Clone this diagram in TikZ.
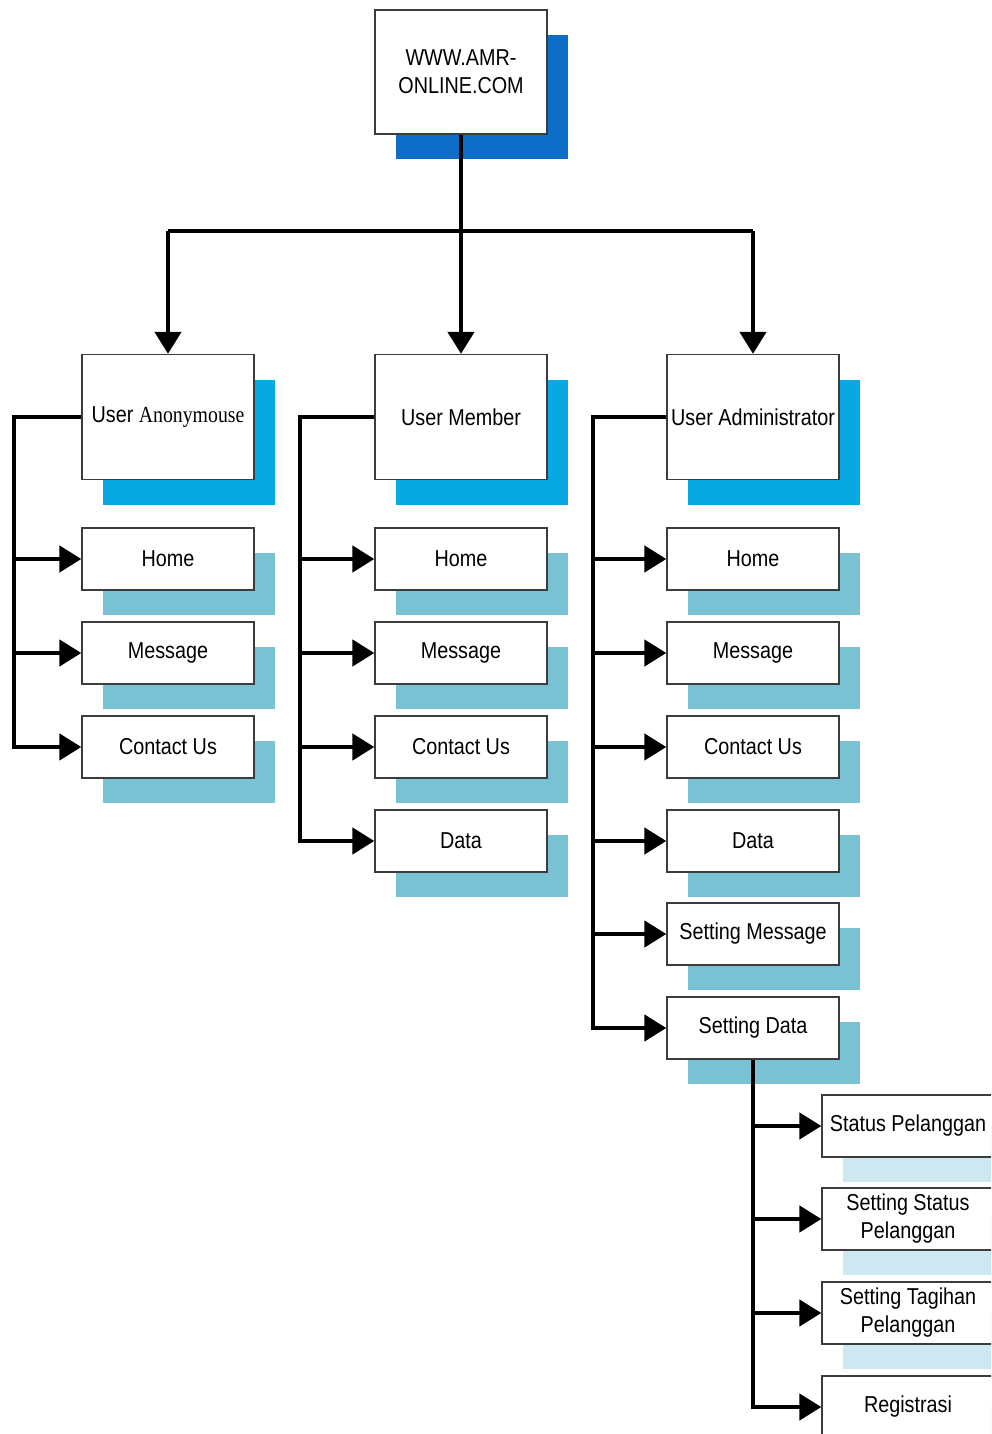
\documentclass[tikz,border=0pt]{standalone}
\usepackage{fontspec}
\setmainfont[FakeStretch=0.86]{Liberation Sans}
\newfontfamily\timespart[FakeStretch=0.86]{Liberation Serif}
\usetikzlibrary{arrows.meta,shadows}
\definecolor{topshade}{RGB}{12,110,198}
\definecolor{usershade}{RGB}{8,168,226}
\definecolor{leafshade}{RGB}{120,194,212}
\definecolor{subshade}{RGB}{205,232,240}
\definecolor{boxline}{RGB}{60,60,60}
\begin{document}
\begin{tikzpicture}[x=1pt,y=-1pt,
	box/.style={draw=boxline, line width=1.3pt, fill=white, align=center, inner sep=2pt,
		minimum width=172pt, font=\fontsize{23}{28}\selectfont},
	bigbox/.style={box, minimum height=125pt,
		drop shadow={shadow xshift=21pt, shadow yshift=-25pt, fill=usershade, opacity=1}},
	leafbox/.style={box, minimum height=62pt,
		drop shadow={shadow xshift=21pt, shadow yshift=-25pt, fill=leafshade, opacity=1}},
	subbox/.style={box, minimum height=62pt,
		drop shadow={shadow xshift=21pt, shadow yshift=-25pt, fill=subshade, opacity=1}},
	conn/.style={line width=4.5pt, black},
	arr/.style={conn, -{Triangle[length=22pt,width=26pt]}}]
	\clip (0,0) rectangle (991,1434);
	\fill[white] (0,0) rectangle (991,1434);
	%Top
	\node[box, minimum height=124pt,
		drop shadow={shadow xshift=21pt, shadow yshift=-25pt, fill=topshade, opacity=1}]
		(web) at (461,72) {WWW.AMR-\\ONLINE.COM};
	%Users
	\node[bigbox] (anon) at (168,417) {User {\timespart Anonymouse}};
	\node[bigbox] (member) at (461,417) {User Member};
	\node[bigbox] (admin) at (753,417) {User Administrator};
	%Anonymous menu
	\node[leafbox] (anonhome) at (168,559) {Home};
	\node[leafbox] (anonmsg) at (168,653) {Message};
	\node[leafbox] (anoncontact) at (168,747) {Contact Us};
	%Member menu
	\node[leafbox] (memhome) at (461,559) {Home};
	\node[leafbox] (memmsg) at (461,653) {Message};
	\node[leafbox] (memcontact) at (461,747) {Contact Us};
	\node[leafbox] (memdata) at (461,841) {Data};
	%Administrator menu
	\node[leafbox] (admhome) at (753,559) {Home};
	\node[leafbox] (admmsg) at (753,653) {Message};
	\node[leafbox] (admcontact) at (753,747) {Contact Us};
	\node[leafbox] (admdata) at (753,841) {Data};
	\node[leafbox] (admsetmsg) at (753,934) {Setting Message};
	\node[leafbox] (admsetdata) at (753,1028) {Setting Data};
	%Setting Data menu
	\node[subbox] (status) at (908,1126) {Status Pelanggan};
	\node[subbox] (setstatus) at (908,1219) {Setting Status\\Pelanggan};
	\node[subbox] (settagihan) at (908,1313) {Setting Tagihan\\Pelanggan};
	\node[subbox] (registrasi) at (908,1407) {Registrasi};
	%Top connectors
	\coordinate (hub) at (461,231);
	\draw[arr] (web.south) -- (member.north);
	\draw[conn] (anon.north |- hub) -- (admin.north |- hub);
	\draw[arr] (anon.north |- hub) -- (anon.north);
	\draw[arr] (admin.north |- hub) -- (admin.north);
	%Buses
	\coordinate (busA) at (14,417);
	\coordinate (busB) at (300,417);
	\coordinate (busC) at (593,417);
	\coordinate (busD) at (753,1059);
	\draw[arr] (anon.west) -- (busA) |- (anoncontact.west);
	\foreach \n in {anonhome,anonmsg}
		\draw[arr] (\n.west -| busA) -- (\n.west);
	\draw[arr] (member.west) -- (busB) |- (memdata.west);
	\foreach \n in {memhome,memmsg,memcontact}
		\draw[arr] (\n.west -| busB) -- (\n.west);
	\draw[arr] (admin.west) -- (busC) |- (admsetdata.west);
	\foreach \n in {admhome,admmsg,admcontact,admdata,admsetmsg}
		\draw[arr] (\n.west -| busC) -- (\n.west);
	\draw[arr] (admsetdata.south) |- (registrasi.west);
	\foreach \n in {status,setstatus,settagihan}
		\draw[arr] (\n.west -| busD) -- (\n.west);
\end{tikzpicture}
\end{document}
